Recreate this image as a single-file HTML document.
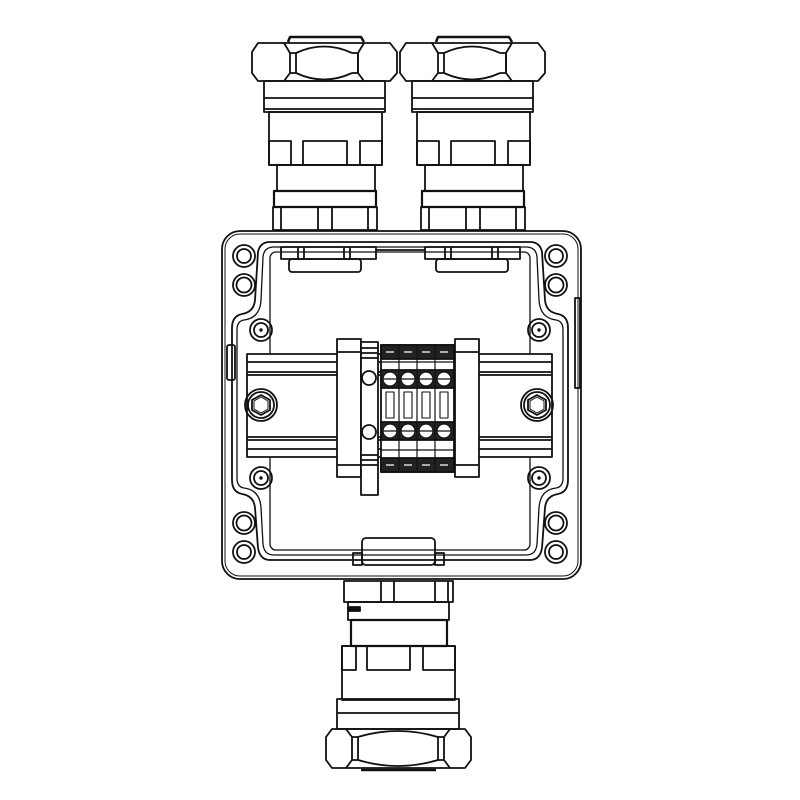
<!DOCTYPE html>
<html><head><style>html,body{margin:0;background:#fff}svg{display:block}</style></head>
<body>
<svg width="800" height="800" viewBox="0 0 800 800" xmlns="http://www.w3.org/2000/svg" fill="none" stroke="#111" stroke-width="1.8" stroke-linejoin="round">
<defs>
<g id="gland">
  <path d="M288 42 L290 37 L361 37 L364 42" stroke-width="2.5"/>
  <path d="M258 43 L390 43 L397 52 L397 73 L390 81 L258 81 L252 73 L252 52 Z"/>
  <path d="M284 43 L290 53 L290 73 L284 81 M364 43 L358 53 L358 73 L364 81"/>
  <path d="M290 53 L296 53 L296 73 L290 73 M352 53 L358 53 L358 73 L352 73"/>
  <path d="M296 53 Q324 40 352 53 M296 73 Q324 86 352 73"/>
  <rect x="264" y="81" width="121" height="31"/>
  <line x1="264" y1="98" x2="385" y2="98"/>
  <line x1="264" y1="109" x2="385" y2="109"/>
  <rect x="269" y="112" width="113" height="53"/>
  <rect x="269" y="141" width="22" height="24"/>
  <rect x="303" y="141" width="44" height="24"/>
  <rect x="360" y="141" width="22" height="24"/>
  <rect x="277" y="165" width="98" height="26"/>
  <rect x="274" y="191" width="102" height="16" stroke-width="2.2"/>
  <rect x="273" y="207" width="104" height="23"/>
  <path d="M281 207 L281 230 M318 207 L318 230 M332 207 L332 230 M368 207 L368 230"/>
</g>
<g id="ear">
  <circle cx="244" cy="256" r="11"/><circle cx="244" cy="256" r="7"/>
  <circle cx="244" cy="285" r="11"/><circle cx="244" cy="285" r="7.5"/>
  <circle cx="261" cy="330" r="11"/><circle cx="261" cy="330" r="7"/>
  <circle cx="261" cy="330" r="0.8" fill="#111"/>
</g>
<g id="hexscrew">
  <circle r="16"/><circle r="13"/>
  <path d="M-9 -5 L0 -10 L9 -5 L9 5 L0 10 L-9 5 Z"/>
  <path d="M-7 -4 L0 -8 L7 -4 L7 4 L0 8 L-7 4 Z" stroke-width="1"/>
</g>
</defs>

<use href="#gland"/>
<use href="#gland" transform="translate(148,0)"/>

<rect x="222" y="231" width="359" height="348" rx="18"/>
<rect x="225" y="234" width="353" height="342" rx="15" stroke-width="1"/>
<path d="M270 242 L530 242 Q540 242 542 252 L545 300 Q546 312 558 314 Q568 316 568 328 L568 480 Q568 492 558 494 Q546 496 545 508 L542 548 Q540 560 530 560 L270 560 Q260 560 258 548 L255 508 Q254 496 242 494 Q232 492 232 480 L232 328 Q232 316 242 314 Q254 312 255 300 L258 252 Q260 242 270 242 Z"/>
<path d="M274 247 L526 247 Q536 247 537 257 L539 300 Q540 318 556 320 Q563 321 563 330 L563 478 Q563 487 556 488 Q540 490 539 508 L537 544 Q536 555 526 555 L274 555 Q264 555 263 544 L261 508 Q260 490 244 488 Q237 487 237 478 L237 330 Q237 321 244 320 Q260 318 261 300 L263 257 Q264 247 274 247 Z" stroke-width="1.3"/>
<rect x="270" y="252" width="260" height="298" rx="6" stroke-width="1.3"/>
<rect x="281" y="247" width="95" height="12"/>
<rect x="289" y="259" width="72" height="13" rx="3"/>
<path d="M298 247 L298 259 M304 247 L304 259 M344 247 L344 259 M350 247 L350 259"/>
<rect x="425" y="247" width="95" height="12"/>
<rect x="436" y="259" width="72" height="13" rx="3"/>
<path d="M445 247 L445 259 M451 247 L451 259 M492 247 L492 259 M498 247 L498 259"/>
<line x1="376" y1="250" x2="425" y2="250"/>
<rect x="362" y="538" width="73" height="27" rx="4"/>
<rect x="353" y="553" width="9" height="12"/><rect x="435" y="553" width="9" height="12"/>
<rect x="227" y="345" width="8" height="35" rx="2"/>
<rect x="575" y="298" width="5" height="90"/>

<use href="#ear"/>
<use href="#ear" transform="translate(800,0) scale(-1,1)"/>
<use href="#ear" transform="translate(0,808) scale(1,-1)"/>
<use href="#ear" transform="translate(800,808) scale(-1,-1)"/>

<rect x="247" y="354" width="305" height="103" fill="#fff"/>
<path d="M247 362 L552 362 M247 372 L552 372 M247 375 L552 375 M247 437 L552 437 M247 440 L552 440 M247 449 L552 449"/>
<use href="#hexscrew" transform="translate(261,405)"/>
<use href="#hexscrew" transform="translate(537,405)"/>

<rect x="337" y="339" width="24" height="138" fill="#fff"/>
<path d="M337 352 L361 352 M337 465 L361 465"/>
<rect x="361" y="342" width="17" height="153" fill="#fff"/>
<circle cx="369" cy="378" r="7"/><circle cx="369" cy="432" r="7"/>
<path d="M361 348 L378 348 M361 353 L378 353 M361 358 L378 358 M361 455 L378 455 M361 460 L378 460 M361 465 L378 465"/>
<rect x="455" y="339" width="24" height="138" fill="#fff"/>
<path d="M455 352 L479 352 M455 465 L479 465"/>

<rect x="381" y="345" width="73" height="127" fill="#fff"/>
<rect x="381" y="345" width="73" height="14" fill="#222"/>
<rect x="381" y="458" width="73" height="14" fill="#222"/>
<rect x="381" y="370" width="73" height="18" fill="#222"/>
<rect x="381" y="422" width="73" height="18" fill="#222"/>
<g stroke-width="1.2">
<path d="M399 345 L399 472 M417 345 L417 472 M435 345 L435 472"/>
<path d="M381 362 L454 362 M381 450 L454 450"/>
</g>
<g fill="#fff" stroke-width="1.2">
<circle cx="390" cy="379" r="7"/><circle cx="408" cy="379" r="7"/><circle cx="426" cy="379" r="7"/><circle cx="444" cy="379" r="7"/>
<circle cx="390" cy="431" r="7"/><circle cx="408" cy="431" r="7"/><circle cx="426" cy="431" r="7"/><circle cx="444" cy="431" r="7"/>
</g>
<path d="M383 379 L397 379 M401 379 L415 379 M419 379 L433 379 M437 379 L451 379 M383 431 L397 431 M401 431 L415 431 M419 431 L433 431 M437 431 L451 431" stroke-width="1.2"/>
<g stroke-width="1.1">
<rect x="386" y="392" width="8" height="26"/><rect x="404" y="392" width="8" height="26"/><rect x="422" y="392" width="8" height="26"/><rect x="440" y="392" width="8" height="26"/>
</g>
<g stroke="#fff" stroke-width="1.2">
<path d="M386 352 L394 352 M404 352 L412 352 M422 352 L430 352 M440 352 L448 352 M386 465 L394 465 M404 465 L412 465 M422 465 L430 465 M440 465 L448 465"/>
</g>

<rect x="344" y="581" width="109" height="21"/>
<path d="M381 581 L381 602 M394 581 L394 602 M435 581 L435 602 M448 581 L448 602"/>
<rect x="348" y="602" width="101" height="18"/>
<rect x="348" y="607" width="12" height="4" fill="#111"/>
<rect x="351" y="620" width="96" height="26" stroke-width="2.2"/>
<rect x="342" y="646" width="113" height="54"/>
<rect x="342" y="646" width="14" height="24"/>
<rect x="367" y="646" width="43" height="24"/>
<rect x="423" y="646" width="32" height="24"/>
<rect x="337" y="699" width="122" height="30"/>
<line x1="337" y1="713" x2="459" y2="713"/>
<path d="M332 729 L465 729 L471 737 L471 760 L465 768 L332 768 L326 760 L326 737 Z"/>
<path d="M346 729 L352 737 L352 760 L346 768 M450 729 L444 737 L444 760 L450 768"/>
<path d="M352 737 L358 737 L358 760 L352 760 M438 737 L444 737 M438 737 L438 760 L444 760"/>
<path d="M358 737 Q398 725 438 737 M358 760 Q398 772 438 760"/>
<path d="M361 770 L436 770" stroke-width="2.5"/>
</svg>
</body></html>
